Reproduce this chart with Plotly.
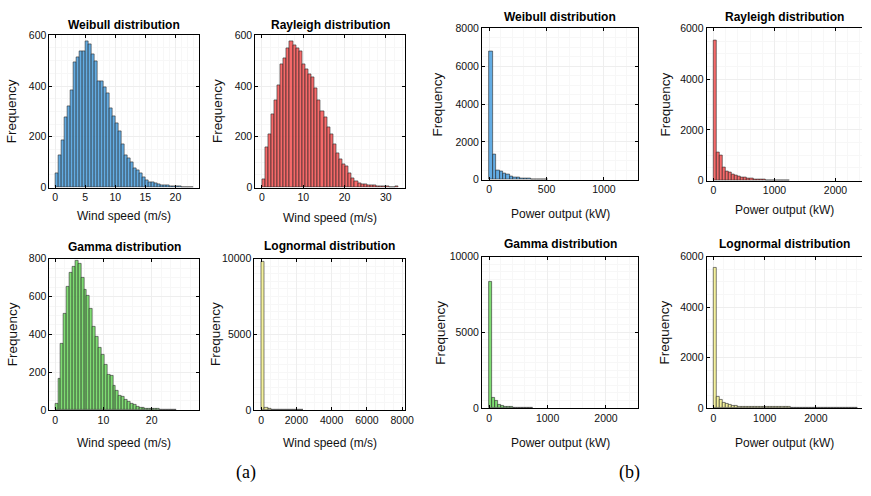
import plotly.graph_objects as go

W, H = 871, 496

# ---------------- data (bin counts) ----------------
# (a) wind speed histograms
wind_weibull_start, wind_weibull_width = 0.0, 0.5
wind_weibull_counts = [58, 126, 185, 277, 320, 385, 494, 514, 535, 535,
                       578, 565, 526, 497, 419, 419, 397, 372, 313, 281,
                       255, 223, 172, 126, 117, 100, 75, 68, 55, 40,
                       27, 19, 19, 17, 12, 9, 8, 8, 6, 6,
                       4, 3, 2, 2, 1, 2]

wind_rayleigh_start, wind_rayleigh_width = 0.0, 0.75
wind_rayleigh_counts = [31, 160, 208, 287, 342, 402, 485, 508, 549, 577,
                        562, 547, 536, 485, 466, 447, 434, 390, 345, 300,
                        275, 236, 211, 172, 134, 112, 92, 83, 57, 38,
                        26, 15, 13, 13, 10, 9, 8, 5, 5, 4,
                        4, 2, 1, 3]

wind_gamma_start, wind_gamma_width = 0.0, 0.6
wind_gamma_counts = [31, 163, 348, 508, 654, 726, 757, 788, 775, 702,
                     637, 602, 534, 439, 387, 327, 293, 241, 189, 181,
                     129, 103, 74, 69, 52, 43, 31, 26, 17, 14,
                     10, 9, 7, 7, 5, 5, 3, 3, 2, 2, 1, 2]

wind_lognormal_start, wind_lognormal_width = 0.0, 200.0
wind_lognormal_counts = [9780, 150, 60, 20, 10, 6, 4, 3, 2, 2, 1, 1]

# (b) power output histograms
power_weibull_start, power_weibull_width = 0.0, 30.0
power_weibull_counts = [6780, 1330, 470, 420, 350, 260, 180, 130, 100, 70,
                        55, 40, 30, 25, 18, 12, 8]

power_rayleigh_start, power_rayleigh_width = 0.0, 50.0
power_rayleigh_counts = [5525, 1120, 980, 520, 380, 310, 255, 191, 153, 127,
                         115, 89, 76, 64, 51, 48, 38, 28, 25, 15,
                         10, 6, 4, 3, 2]

power_gamma_start, power_gamma_width = 0.0, 50.0
power_gamma_counts = [8320, 710, 495, 215, 150, 100, 70, 50, 35, 25,
                      18, 14, 8, 5, 3]

power_lognormal_start, power_lognormal_width = 0.0, 60.0
power_lognormal_counts = [5548, 452, 323, 194, 155, 116, 90, 77, 65, 60,
                          55, 50, 48, 45, 42, 40, 38, 36, 35, 34,
                          33, 32, 31, 30, 30, 29, 28, 28, 27, 27,
                          26, 26, 25, 25, 24, 24, 23, 23, 22, 22,
                          22, 21, 21, 20, 20, 20, 19]

titles = ["Weibull distribution", "Rayleigh distribution",
          "Gamma distribution", "Lognormal distribution"]
wind_label = "Wind speed (m/s)"
power_label = "Power output (kW)"
y_label = "Frequency"
group_labels = ["(a)", "(b)"]

# ---------------- styling / layout ----------------
colors = ["rgba(72,158,222,0.85)", "rgba(245,80,80,0.85)",
          "rgba(105,215,90,0.85)", "rgba(242,238,140,0.85)"]

REG = "Liberation Sans, Arial, sans-serif"

panels = [
    # counts, start, width, color, xrange, xticks, yrange, yticks, xlabel, box(px: l,r,t,b), title_y, ylab_x, xlab_y
    (wind_weibull_counts, wind_weibull_start, wind_weibull_width, 0, [-0.93, 23.9], [0, 5, 10, 15, 20],
     [0, 600], [0, 200, 400, 600], wind_label, (50, 201, 30, 186), 19, 12, 215),
    (wind_rayleigh_counts, wind_rayleigh_start, wind_rayleigh_width, 1, [-1.6, 34.6], [0, 10, 20, 30],
     [0, 600], [0, 200, 400, 600], wind_label, (258, 409, 30, 186), 19, 220, 217),
    (wind_gamma_counts, wind_gamma_start, wind_gamma_width, 2, [-1.17, 29.8], [0, 10, 20],
     [0, 800], [0, 200, 400, 600, 800], wind_label, (50, 201, 259, 414), 247, 12, 448),
    (wind_lognormal_counts, wind_lognormal_start, wind_lognormal_width, 3, [-390, 8150], [0, 2000, 4000, 6000, 8000],
     [0, 10000], [0, 5000, 10000], wind_label, (257, 409, 259, 414), 246, 218, 448),
    (power_weibull_counts, power_weibull_start, power_weibull_width, 0, [-63, 1300], [0, 500, 1000],
     [0, 8000], [0, 2000, 4000, 6000, 8000], power_label, (487, 645, 23, 178), 11, 442, 213),
    (power_rayleigh_counts, power_rayleigh_start, power_rayleigh_width, 1, [-113, 2435], [0, 1000, 2000],
     [0, 6000], [0, 2000, 4000, 6000], power_label, (714, 871, 23, 179), 11, 673, 209),
    (power_gamma_counts, power_gamma_start, power_gamma_width, 2, [-124, 2554], [0, 1000, 2000],
     [0, 10000], [0, 5000, 10000], power_label, (487, 645, 257, 412), 244, 445, 448),
    (power_lognormal_counts, power_lognormal_start, power_lognormal_width, 3, [-135, 2900], [0, 1000, 2000],
     [0, 6000], [0, 2000, 4000, 6000], power_label, (714, 871, 257, 412), 244, 671, 448),
]

fig = go.Figure()
annotations = []
layout_axes = {}

for i, (counts, start, width, ci, xr, xt, yr, yt, xlab, box, ty, ylx, xly) in enumerate(panels):
    n = i + 1
    xa = "x" if n == 1 else f"x{n}"
    ya = "y" if n == 1 else f"y{n}"
    centers = [start + width * (k + 0.5) for k in range(len(counts))]
    fig.add_trace(go.Bar(
        x=centers, y=counts, width=width, xaxis=xa, yaxis=ya,
        marker=dict(color=colors[ci], line=dict(color="rgba(40,40,40,0.85)", width=0.7)),
        showlegend=False, hoverinfo="x+y"))
    l, r, t, b = box
    dx = [l / W, min(r / W, 1.0)]
    dy = [1 - b / H, 1 - t / H]
    right_edge = r >= W
    common = dict(showline=True, linecolor="black", linewidth=1, ticks="inside", ticklen=3,
                  tickcolor="black", showgrid=True, gridcolor="#eeeeee", gridwidth=1,
                  zeroline=False, tickfont=dict(family=REG, size=10.5, color="#111"),
                  minor=dict(showgrid=True, gridcolor="#f7f7f7", nticks=5))
    layout_axes["xaxis" if n == 1 else f"xaxis{n}"] = dict(
        common, domain=dx, range=xr, tickvals=xt, ticktext=[str(v) for v in xt],
        anchor=ya, mirror="ticks")
    layout_axes["yaxis" if n == 1 else f"yaxis{n}"] = dict(
        common, domain=dy, range=yr, tickvals=yt, ticktext=[str(v) for v in yt],
        anchor=xa, mirror=False if right_edge else "ticks")
    cx = (l + min(r, W)) / 2 / W
    annotations.append(dict(text=f"<b>{titles[i % 4]}</b>", x=cx, y=1 - ty / H, xref="paper", yref="paper",
                            showarrow=False, xanchor="center", yanchor="middle",
                            font=dict(family=REG, size=12, color="black")))
    annotations.append(dict(text=xlab, x=cx, y=1 - xly / H, xref="paper", yref="paper",
                            showarrow=False, xanchor="center", yanchor="middle",
                            font=dict(family=REG, size=12, color="#111")))
    annotations.append(dict(text=y_label, x=ylx / W, y=1 - (t + b) / 2 / H, xref="paper", yref="paper",
                            showarrow=False, xanchor="center", yanchor="middle", textangle=-90,
                            font=dict(family=REG, size=13.5, color="#111")))

for lab, gx in zip(group_labels, [249, 636]):
    annotations.append(dict(text=lab, x=gx / W, y=1 - 478 / H, xref="paper", yref="paper", showarrow=False,
                            xanchor="center", yanchor="middle",
                            font=dict(family="Liberation Serif, Times New Roman, serif", size=18, color="black")))

fig.update_layout(width=W, height=H, margin=dict(l=0, r=0, t=0, b=0),
                  paper_bgcolor="white", plot_bgcolor="white", bargap=0,
                  annotations=annotations, **layout_axes)

fig.write_html("out.html")
